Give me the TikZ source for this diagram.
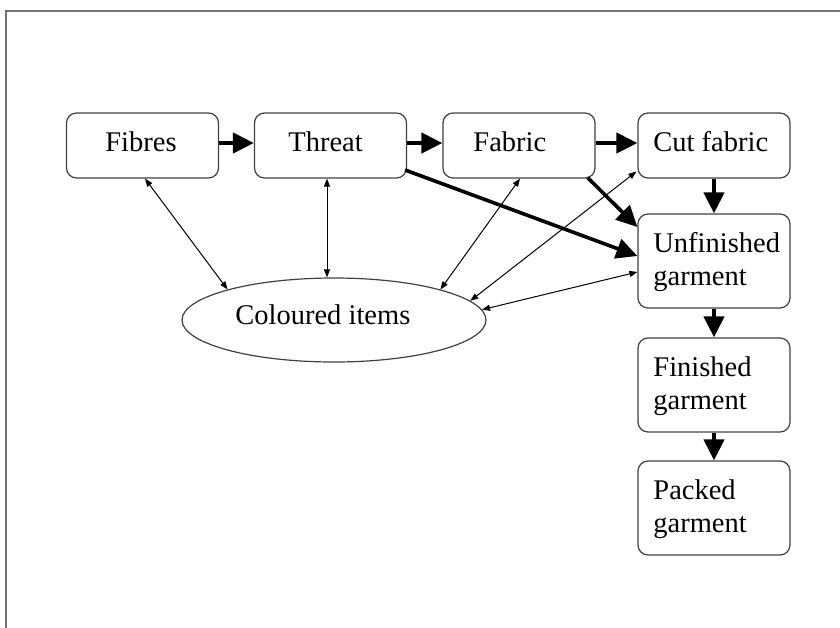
\documentclass[tikz,border=0pt]{standalone}
\usepackage{fontspec}
\setmainfont{Liberation Serif}
\usetikzlibrary{arrows.meta,shapes.geometric,calc}
\begin{document}
\begin{tikzpicture}[x=0.5pt,y=-0.5pt,
  box/.style={draw=black!75,line width=0.6pt,rounded corners=5pt,minimum width=76pt,inner sep=0pt},
  onerow/.style={box,minimum height=32.5pt},
  tworow/.style={box,minimum height=47pt},
  lbl/.style={anchor=base west,inner sep=0pt,font=\fontsize{14.25}{16.5}\selectfont},
  flow/.style={line width=2.2pt,-{Triangle[length=10.5pt,width=10pt]}},
  link/.style={line width=0.5pt,{Triangle[length=4pt,width=3pt]}-{Triangle[length=4pt,width=3pt]}}]
\useasboundingbox (0,0) rectangle (840,627);
\draw[black!55,line width=1pt] (5.5,640) -- (5.5,11) -- (850,11);
% boxes
\node[onerow] (fibres) at (142.5,145.5) {};
\node[onerow] (threat) at (330.5,145.5) {};
\node[onerow] (fabric) at (519,145.5) {};
\node[onerow] (cut) at (714,145.5) {};
\node[tworow] (unf) at (714,261) {};
\node[tworow] (fin) at (714,385) {};
\node[tworow] (pack) at (714,508) {};
\node[draw=black!75,line width=0.6pt,ellipse,minimum width=152pt,minimum height=42pt,inner sep=0pt] (col) at (334,320) {};
% labels
\node[lbl] (tfibres) at (105,151.7) {Fibres};
\node[lbl] (tthreat) at (288,151.7) {Threat};
\node[lbl] (tfabric) at (473,151.7) {Fabric};
\node[lbl] (tcut) at (653,151.7) {Cut fabric};
\node[lbl] (tunf1) at (653,252) {Unfinished};
\node[lbl] (tunf2) at (653,285) {garment};
\node[lbl] (tfin1) at (653,376) {Finished};
\node[lbl] (tfin2) at (653,409) {garment};
\node[lbl] (tpack1) at (653,499) {Packed};
\node[lbl] (tpack2) at (653,532) {garment};
\node[lbl] (tcol) at (235,324) {Coloured items};
% thick flow arrows
\draw[flow] ($(fibres.east)+(0,-2.5)$) -- ($(threat.west)+(0,-2.5)$);
\draw[flow] ($(threat.east)+(0,-2.5)$) -- ($(fabric.west)+(0,-2.5)$);
\draw[flow] ($(fabric.east)+(0,-2.5)$) -- ($(cut.west)+(0,-2.5)$);
\draw[flow] (cut.south) -- (unf.north);
\draw[flow] (unf.south) -- (fin.north);
\draw[flow] (fin.south) -- (pack.north);
\draw[flow,line width=1.8pt] ($(threat.east)+(-2,24.5)$) -- ($(unf.west)+(0,-5)$);
\draw[flow,line width=1.8pt] ($(fabric.south east)+(-8,-1)$) -- ($(unf.west)+(0,-34)$);
% thin links
\draw[link] ($(fibres.south)+(2.5,0)$) -- (col.164);
\draw[link] ($(threat.south)+(-3.5,0)$) -- ($(col.north)+(-7,0)$);
\draw[link] ($(fabric.south)+(1,0)$) -- (col.16);
\draw[link] ($(cut.west)+(-1,26)$) -- (col.8);
\draw[link] ($(unf.west)+(0,11)$) -- (col.4);
\end{tikzpicture}
\end{document}
